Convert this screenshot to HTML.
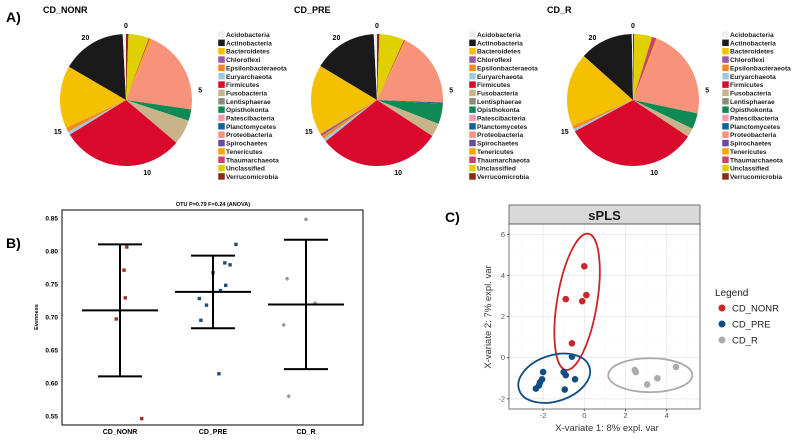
<!DOCTYPE html>
<html><head><meta charset="utf-8"><style>
body{margin:0;background:#fff;}
svg{display:block;font-family:"Liberation Sans",Arial,sans-serif;}
</style></head><body>
<svg id="fig" width="796" height="444" viewBox="0 0 796 444" xmlns="http://www.w3.org/2000/svg">
<text x="6" y="22" font-size="14" font-weight="bold">A)</text>
<text x="6" y="248" font-size="14" font-weight="bold">B)</text>
<text x="445" y="222" font-size="14" font-weight="bold">C)</text>
<g id="pies"></g>
<g id="panelB"></g>
<g id="panelC"></g>
</svg>
<script>
const NS="http://www.w3.org/2000/svg";
function mk(tag,attrs,parent,txt){const e=document.createElementNS(NS,tag);for(const k in attrs)e.setAttribute(k,attrs[k]);if(txt!==undefined)e.textContent=txt;parent.appendChild(e);return e;}

// ---------- Panel A data ----------
const phyla=["Acidobacteria","Actinobacteria","Bacteroidetes","Chloroflexi","Epsilonbacteraeota","Euryarchaeota","Firmicutes","Fusobacteria","Lentisphaerae","Opisthokonta","Patescibacteria","Planctomycetes","Proteobacteria","Spirochaetes","Tenericutes","Thaumarchaeota","Unclassified","Verrucomicrobia"];
const phylaColors=["#eeeeee","#1a1a1a","#f5c000","#9b59a0","#f28b1e","#9ecae1","#d9082c","#c8b38a","#8c8c7c","#0f8a55","#f59ab0","#1261a0","#f7937a","#6a4a9e","#f7a600","#c8436e","#e0d000","#8b2a10"];
const groupsA=["CD_NONR","CD_PRE","CD_R"];
const abundNONR=[0.8,15.8,15.3,0,1.1,0.8,30,6.1,0,2.8,0,0,20.8,0,0.6,0.3,5,0.6];
const abundPRE=[0.8,15.6,17.2,0.6,0.8,0.8,30,3.3,0,5,0,0.3,18.3,0,0.3,0.3,6.1,0.6];
const abundR=[0.3,13.1,18.1,0,0.8,0.6,32.8,2.2,0,3.9,0,0,22.2,0,0.3,1.1,4.4,0.3];
const pieTicks=[0,5,10,15,20];
const pieTickMax=22; // axis range of the polar scale
const pieData=[abundNONR,abundPRE,abundR];

const pieCx=[126,377,633], pieCy=100, pieR=66, legX=[218,469,722], titleX=[43,294,547];
const pies=document.getElementById('pies');
groupsA.forEach((g,gi)=>{
  const grp=mk('g',{},pies);
  
  
  const t=mk('text',{x:titleX[gi],y:13,'font-size':9,'font-weight':'bold'},grp,g);
  
  
  const vals=pieData[gi]; const tot=vals.reduce((a,b)=>a+b,0);
  const cx=pieCx[gi], cy=pieCy;
  let a0=0;
  for(let i=vals.length-1;i>=0;i--){
    const v=vals[i]; if(v<=0)continue;
    const a1=a0+v/tot*2*Math.PI;
    const x0=cx+pieR*Math.sin(a0), y0=cy-pieR*Math.cos(a0);
    const x1=cx+pieR*Math.sin(a1), y1=cy-pieR*Math.cos(a1);
    const large=(a1-a0)>Math.PI?1:0;
    const p=mk('path',{d:`M${cx},${cy}L${x0},${y0}A${pieR},${pieR} 0 ${large} 1 ${x1},${y1}Z`,fill:phylaColors[i]},grp);
    
    
    a0=a1;
  }
  pieTicks.forEach(tv=>{
    const a=tv/pieTickMax*2*Math.PI, rr=pieR+9;
    const tx=mk('text',{x:cx+rr*Math.sin(a),y:cy-rr*Math.cos(a)+3,'font-size':7,'font-weight':'bold','text-anchor':'middle'},grp,String(tv));
    
    
  });
  phyla.forEach((ph,i)=>{
    const y=31+i*8.35;
    const r=mk('rect',{x:legX[gi],y:y,width:7,height:7,fill:phylaColors[i],stroke:'#fff','stroke-width':0.5},grp);
    
    
    const tx=mk('text',{x:legX[gi]+8,y:y+6,'font-size':6.6,'font-weight':'bold',fill:'#222'},grp,ph);
    
    
  });
});

// ---------- Panel B data ----------
const catsB=["CD_NONR","CD_PRE","CD_R"];
const meanB=[0.710,0.738,0.719];
const upperB=[0.810,0.793,0.817];
const lowerB=[0.610,0.683,0.621];
const ptsNONR=[0.806,0.771,0.729,0.697,0.546];
const jitNONR=[0.22,0.13,0.17,-0.12,0.70];
const ptsPRE=[0.810,0.782,0.779,0.767,0.748,0.740,0.728,0.718,0.695,0.614];
const jitPRE=[0.74,0.38,0.55,0.0,0.41,0.24,-0.44,-0.21,-0.39,0.19];
const ptsR=[0.848,0.758,0.721,0.688,0.580];
const jitR=[0.0,-0.61,0.29,-0.72,-0.56];
const ticksB=[0.55,0.60,0.65,0.70,0.75,0.80,0.85];

const B=document.getElementById('panelB');
const bL=62,bR=363,bT=210,bB=425;
const yB=v=>218+(0.85-v)/0.30*198;
const xB=i=>120+i*93;
const bw=mk('rect',{x:bL,y:bT,width:bR-bL,height:bB-bT,fill:'none',stroke:'#000','stroke-width':1},B);


const bt=mk('text',{x:213,y:206,'font-size':5.5,'font-weight':'bold','text-anchor':'middle'},B,'OTU P=0.79 F=0.24 (ANOVA)');


const yl=mk('text',{x:0,y:0,'font-size':5.5,'font-weight':'bold','text-anchor':'middle',transform:'translate(38,317) rotate(-90)'},B,'Evenness');


ticksB.forEach(tv=>{
  const t=mk('text',{x:bL-4,y:yB(tv)+2.5,'font-size':6.5,'font-weight':'bold','text-anchor':'end'},B,tv.toFixed(2));
  
  
});
catsB.forEach((c,i)=>{
  const t=mk('text',{x:xB(i),y:434,'font-size':7,'font-weight':'bold','text-anchor':'middle'},B,c);
  
  
});
const ptColors=["#a0302a","#1f4e79","#9a9a9a"];
[[ptsNONR,jitNONR],[ptsPRE,jitPRE],[ptsR,jitR]].forEach(([pts,jit],gi)=>{
  pts.forEach((v,k)=>{
    const x=xB(gi)+jit[k]*31, y=yB(v);
    let e;
    if(gi<2) e=mk('rect',{x:x-1.7,y:y-1.7,width:3.4,height:3.4,fill:ptColors[gi]},B);
    else e=mk('path',{d:`M${x},${y-2.3}L${x+2.3},${y}L${x},${y+2.3}L${x-2.3},${y}Z`,fill:ptColors[2]},B);
    
    
  });
});
catsB.forEach((c,i)=>{
  const g=mk('g',{stroke:'#000','stroke-width':2},B);
  
  
  const x=xB(i);
  mk('line',{x1:x,x2:x,y1:yB(upperB[i]),y2:yB(lowerB[i])},g);
  mk('line',{x1:x-22,x2:x+22,y1:yB(upperB[i]),y2:yB(upperB[i])},g);
  mk('line',{x1:x-22,x2:x+22,y1:yB(lowerB[i]),y2:yB(lowerB[i])},g);
  mk('line',{x1:x-38,x2:x+38,y1:yB(meanB[i]),y2:yB(meanB[i])},g);
});

// ---------- Panel C data ----------
const nonrX=[0.0,-0.9,0.1,-0.1,-0.6];
const nonrY=[4.45,2.85,3.05,2.75,0.7];
const preX=[-0.6,-2.0,-1.0,-0.9,-0.45,-2.05,-2.15,-2.2,-2.35,-0.95];
const preY=[0.05,-0.7,-0.7,-0.85,-1.05,-1.05,-1.2,-1.35,-1.5,-1.55];
const rX=[2.45,2.5,3.55,3.05,4.45];
const rY=[-0.6,-0.7,-1.0,-1.3,-0.45];
const xTicksC=[-2,0,2,4];
const yTicksC=[-2,0,2,4,6];
const groupsC=["CD_NONR","CD_PRE","CD_R"];

const C=document.getElementById('panelC');
const xC=v=>584.3+v*20.6, yC=v=>357.7-v*20.55;
const pL=509,pR=700,pT=224,pB=409;
const bg=mk('rect',{x:pL,y:pT,width:pR-pL,height:pB-pT,fill:'#fff'},C);


const grid=mk('g',{},C);


for(let v=-3;v<=5;v++){mk('line',{x1:xC(v),x2:xC(v),y1:pT,y2:pB,stroke:v%2===0?'#e6e6e6':'#f3f3f3','stroke-width':v%2===0?0.8:0.5},grid);}
for(let v=-2;v<=6;v++){mk('line',{x1:pL,x2:pR,y1:yC(v),y2:yC(v),stroke:v%2===0?'#e6e6e6':'#f3f3f3','stroke-width':v%2===0?0.8:0.5},grid);}
const strip=mk('rect',{x:pL,y:205,width:pR-pL,height:19,fill:'#d9d9d9',stroke:'#555','stroke-width':0.8},C);


const st=mk('text',{x:(pL+pR)/2,y:220,'font-size':13,'font-weight':'bold','text-anchor':'middle',fill:'#1a1a1a'},C,'sPLS');


const fr=mk('rect',{x:pL,y:pT,width:pR-pL,height:pB-pT,fill:'none',stroke:'#555','stroke-width':0.8},C);


xTicksC.forEach(v=>{
  mk('line',{x1:xC(v),x2:xC(v),y1:pB,y2:pB+2,stroke:'#555'},C);
  const t=mk('text',{x:xC(v),y:418,'font-size':7.5,'text-anchor':'middle',fill:'#555'},C,String(v));
  
  
});
yTicksC.forEach(v=>{
  mk('line',{x1:pL-2,x2:pL,y1:yC(v),y2:yC(v),stroke:'#555'},C);
  const t=mk('text',{x:505,y:yC(v)+2.5,'font-size':7.5,'text-anchor':'end',fill:'#555'},C,String(v));
  
  
});
const xt=mk('text',{x:607,y:431,'font-size':9.5,'text-anchor':'middle',fill:'#333'},C,'X-variate 1: 8% expl. var');


const yt=mk('text',{x:0,y:0,'font-size':9.5,'text-anchor':'middle',fill:'#333',transform:'translate(491,317) rotate(-90)'},C,'X-variate 2: 7% expl. var');


const cCol=["#c8262a","#124e82","#ababab"];
const ell=[[-0.35,2.72,20,69,9.4],[-1.46,-1.0,37,23,-18],[3.2,-0.85,42,17,0]];
ell.forEach((e,i)=>{
  const el=mk('ellipse',{cx:0,cy:0,rx:e[2],ry:e[3],fill:'none',stroke:cCol[i],'stroke-width':1.8,transform:`translate(${xC(e[0])},${yC(e[1])}) rotate(${e[4]})`},C);
  
  
});
[[nonrX,nonrY],[preX,preY],[rX,rY]].forEach(([xs,ys],gi)=>{
  xs.forEach((x,k)=>{
    const c=mk('circle',{cx:xC(x),cy:yC(ys[k]),r:3.3,fill:cCol[gi]},C);
    
    
  });
});
const lg=mk('g',{},C);


mk('text',{x:715,y:296,'font-size':10,fill:'#222'},lg,'Legend');
groupsC.forEach((g,i)=>{
  const y=308+i*16;
  const d=mk('circle',{cx:722,cy:y,r:3.5,fill:cCol[i]},lg);
  
  
  const t=mk('text',{x:732,y:y+3.5,'font-size':9.5,fill:'#222'},lg,g);
  
  
});
</script>
</body></html>
